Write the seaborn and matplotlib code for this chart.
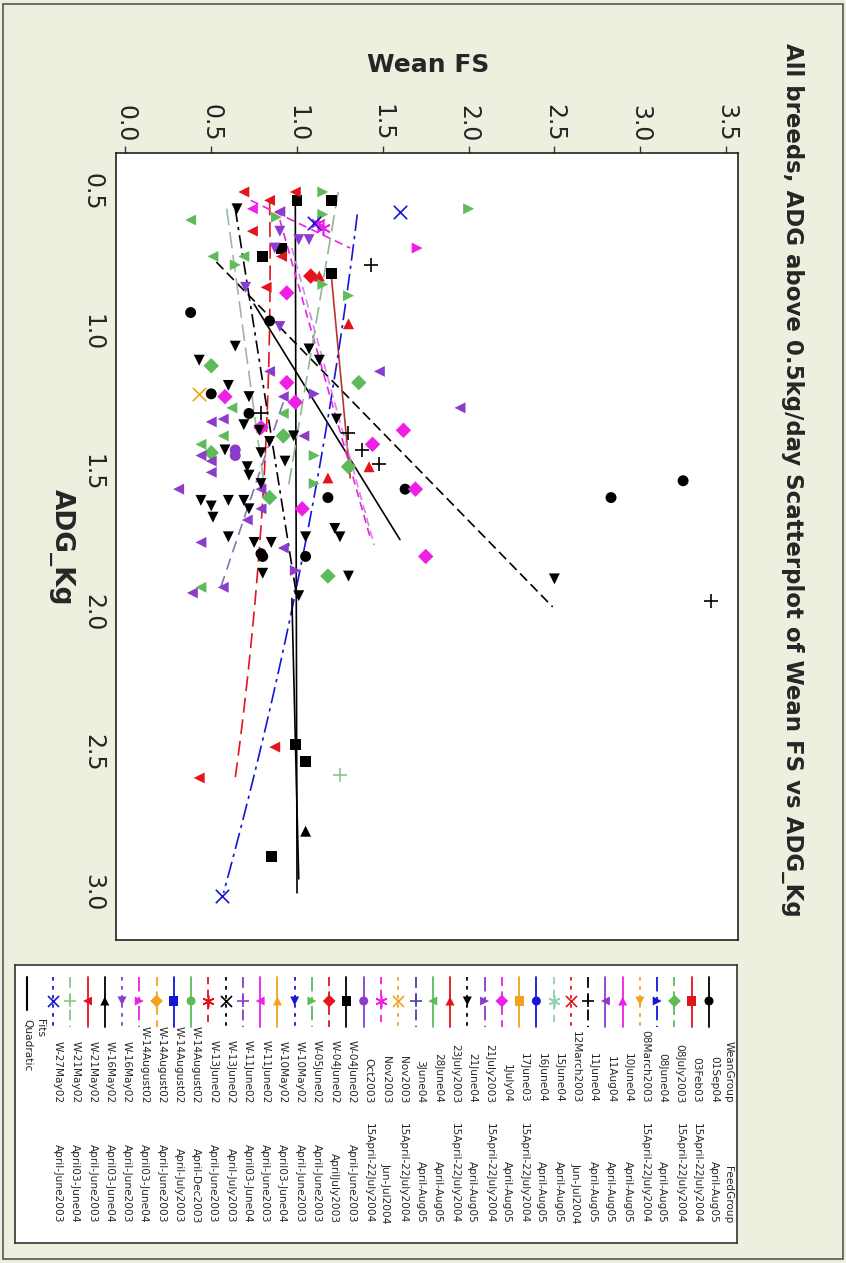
import matplotlib
matplotlib.use("Agg")
import matplotlib.pyplot as plt
import numpy as np
import seaborn as sns

sns.set_style("white")
plt.rcParams["font.family"] = ["DejaVu Sans"]

# legend entries (WeanGroup, FeedGroup), in legend order
wean_groups = [
    "01Sep04", "03Feb03", "08July2003", "08June04", "08March2003", "10June04",
    "11Aug04", "11June04", "12March2003", "15June04", "16June04", "17June03",
    "1July04", "21July2003", "21June04", "23July2003", "28June04", "3June04",
    "Nov2003", "Nov2003", "Oct2003", "W-04June02", "W-04June02", "W-05June02",
    "W-10May02", "W-10May02", "W-11June02", "W-11June02", "W-13June02",
    "W-13June02", "W-14August02", "W-14August02", "W-14August02",
    "W-14August02", "W-16May02", "W-16May02", "W-21May02", "W-21May02",
    "W-27May02",
]
feed_groups = [
    "April-Aug05", "15April-22July2004", "15April-22July2004", "April-Aug05",
    "15April-22July2004", "April-Aug05", "April-Aug05", "April-Aug05",
    "Jun-Jul2004", "April-Aug05", "April-Aug05", "15April-22July2004",
    "April-Aug05", "15April-22July2004", "April-Aug05", "15April-22July2004",
    "April-Aug05", "April-Aug05", "15April-22July2004", "Jun-Jul2004",
    "15April-22July2004", "April-June2003", "AprilJuly2003", "April-June2003",
    "April-June2003", "April03-June04", "April-June2003", "April03-June04",
    "April-July2003", "April-June2003", "April-Dec2003", "April-July2003",
    "April-June2003", "April03-June04", "April-June2003", "April03-June04",
    "April-June2003", "April03-June04", "April-June2003",
]

# scatter points: group index, ADG_Kg, Wean FS
pt_group = (
    [0] * 11 + [2] * 7 + [6] * 19 + [7] * 6 + [37] + [12] * 10 + [13] * 2
    + [14] * 34 + [15] * 4 + [16] * 8 + [18] + [19] * 2 + [20] * 2
    + [21] * 8 + [22] + [23] * 9 + [26] + [33] + [34] * 6 + [35]
    + [36] * 8 + [38] * 3
)
pt_adg = [
    0.93, 0.96, 1.22, 1.29, 1.56, 1.59, 1.79, 1.80, 1.80, 1.53, 1.59,
    1.12, 1.18, 1.37, 1.43, 1.48, 1.59, 1.87,
    0.57, 1.14, 1.14, 1.23, 1.27, 1.31, 1.32, 1.37, 1.44, 1.46, 1.50, 1.56,
    1.56, 1.63, 1.67, 1.75, 1.77, 1.93, 1.91,
    0.76, 1.29, 1.36, 1.42, 1.47, 1.96,
    2.58,
    0.86, 1.18, 1.23, 1.25, 1.34, 1.35, 1.40, 1.56, 1.63, 1.80,
    1.22, 1.85,
    0.56, 1.05, 1.06, 1.10, 1.10, 1.19, 1.23, 1.31, 1.33, 1.35, 1.37, 1.39,
    1.42, 1.43, 1.46, 1.48, 1.51, 1.54, 1.60, 1.62, 1.60, 1.60, 1.63, 1.66,
    1.70, 1.73, 1.73, 1.75, 1.75, 1.73, 1.86, 1.87, 1.94, 1.88,
    0.80, 0.97, 1.48, 1.52,
    0.60, 0.73, 0.73, 1.27, 1.29, 1.37, 1.40, 1.91,
    1.22,
    0.63, 0.61,
    1.42, 1.44,
    0.53, 0.53, 0.70, 0.73, 0.79, 2.47, 2.53, 2.87,
    0.80,
    0.50, 0.56, 0.58, 0.59, 0.76, 0.83, 0.87, 1.44, 1.54,
    0.56,
    0.70,
    0.64, 0.67, 0.67, 0.70, 0.84, 0.98,
    2.78,
    0.50, 0.53, 0.50, 0.64, 0.73, 0.84, 2.48, 2.59,
    0.57, 0.61, 3.01,
]
pt_fs = [
    0.38, 0.84, 0.50, 0.72, 1.63, 1.18, 0.79, 0.80, 1.05, 3.25, 2.83,
    0.50, 1.36, 0.92, 0.50, 1.30, 0.84, 1.18,
    0.90, 0.84, 1.48, 0.92, 1.95, 0.57, 0.50, 1.04, 0.44, 0.50, 0.50, 0.31,
    0.79, 0.79, 0.71, 0.44, 0.92, 0.39, 0.57,
    1.43, 0.79, 1.30, 1.38, 1.48, 3.41,
    1.25,
    0.94, 0.94, 0.58, 0.99, 0.79, 1.62, 1.44, 1.69, 1.03, 1.75,
    1.10, 0.99,
    0.65, 0.64, 1.07, 1.13, 0.43, 0.60, 0.72, 1.23, 0.69, 0.78, 0.98, 0.84,
    0.58, 0.79, 0.93, 0.71, 0.72, 0.79, 0.44, 0.50, 0.60, 0.69, 0.72, 0.51,
    1.22, 1.25, 0.60, 0.75, 0.85, 1.05, 0.80, 1.30, 1.01, 2.50,
    1.13, 1.30, 1.42, 1.18,
    0.38, 0.51, 0.69, 0.62, 0.92, 0.57, 0.44, 0.44,
    0.43,
    1.15, 1.12,
    0.64, 0.64,
    1.00, 1.20, 0.91, 0.80, 1.20, 0.99, 1.05, 0.85,
    1.08,
    1.15, 2.00, 1.15, 0.88, 0.64, 1.15, 1.30, 1.10, 1.10,
    0.74,
    1.70,
    0.90, 1.01, 1.07, 0.87, 0.70, 0.90,
    1.05,
    0.69, 0.84, 0.99, 0.74, 0.91, 0.82, 0.87, 0.43,
    1.60, 1.10, 0.56,
]

# quadratic fit lines per group (ADG_Kg, Wean FS)
fit_group = [0, 7, 21, 15, 38, 12, 13, 36, 14, 19, 23, 16, 35, 6]
fit_adg = [
    [0.90, 1.74], [0.75, 1.98], [0.53, 3.00], [0.80, 1.52],
    [0.58, 1.18, 1.80, 2.35, 3.00], [0.60, 1.74], [0.70, 1.76],
    [0.53, 1.60, 2.59], [0.56, 1.95], [0.53, 0.70], [0.50, 1.55],
    [0.56, 1.60], [1.95, 2.95], [1.25, 1.92],
]
fit_fs = [
    [0.75, 1.60], [0.53, 2.49], [0.99, 1.00], [1.20, 1.31],
    [1.36, 1.20, 1.02, 0.87, 0.56], [0.90, 1.43], [0.97, 1.45],
    [0.84, 0.80, 0.64], [0.64, 1.00], [0.73, 1.31], [1.24, 0.95],
    [0.59, 0.82], [0.97, 1.01], [0.92, 0.55],
]

# styles
color_cycle = ["#000000", "#E3141B", "#5DBB5A", "#1515D8", "#F0A41C",
               "#EE20E6", "#8C3CCB"]
marker_cycle = ["o", "s", "D", ">", "v", "^", "<", "+", "x", (6, 2, 0)]
line_cycle = ["-", "-", (0, (5, 3)), (0, (8, 3, 2, 3)), (0, (2, 3)),
              "-", "-", (0, (6, 3)), (0, (2, 3)), (0, (4, 3))]
n_groups = len(wean_groups)
colors = [color_cycle[i % 7] for i in range(n_groups)]
markers = [marker_cycle[i % 10] for i in range(n_groups)]
lines = [line_cycle[i % 10] for i in range(n_groups)]
colors[17] = "#4B3FA8"
colors[9] = "#8FD3B0"
colors[37] = "#86C98A"
fit_ls = ["-", (0, (6, 3)), "-", "-", (0, (10, 3, 2, 3)), (0, (5, 3)),
          (0, (5, 3)), (0, (9, 4)), (0, (8, 3, 2, 3)), (0, (5, 3)),
          (0, (10, 4)), (0, (10, 4)), "-", (0, (7, 4))]
fit_color = {15: "#B8342A", 13: "#C98BE6", 16: "#9DB8A0", 23: "#8FB890",
             6: "#8E6FB0"}

bg = "#EEEFDF"
fig = plt.figure(figsize=(8.46, 12.63), dpi=100, facecolor=bg)
W, H = 846, 1263


def fig_box(x0, y0, x1, y1):
    return [x0 / W, 1 - y1 / H, (x1 - x0) / W, (y1 - y0) / H]


ax = fig.add_axes(fig_box(116, 153, 738, 940))
ax.set_facecolor("white")

pt_group = np.array(pt_group)
pt_adg = np.array(pt_adg)
pt_fs = np.array(pt_fs)


def draw_marker(axis, x, y, gi, size):
    m = markers[gi]
    line_art = m in ("+", "x") or isinstance(m, tuple)
    sns.scatterplot(
        x=x, y=y, ax=axis, marker=m, s=size * (1.5 if line_art else 1),
        color=colors[gi], edgecolor=colors[gi] if line_art else "none",
        linewidth=1.2 if line_art else 0, legend=False, zorder=3,
    )


for gi in range(n_groups):
    sel = pt_group == gi
    if sel.any():
        draw_marker(ax, pt_fs[sel], pt_adg[sel], gi, 62)

for k, (gi, xs, ys) in enumerate(zip(fit_group, fit_adg, fit_fs)):
    xs = np.array(xs)
    ys = np.array(ys)
    deg = min(2, len(xs) - 1)
    coef = np.polyfit(xs, ys, deg)
    xx = np.linspace(xs.min(), xs.max(), 50)
    ax.plot(np.polyval(coef, xx), xx, color=fit_color.get(gi, colors[gi]),
            linestyle=fit_ls[k], linewidth=1.2, zorder=2)

ax.set_xlim(-0.055, 3.57)
ax.set_ylim(3.168, 0.361)
ax.set_xticks(np.arange(0, 3.51, 0.5))
ax.set_yticks(np.arange(0.5, 3.01, 0.5))
ax.set_xticklabels([f"{v:.1f}" for v in np.arange(0, 3.51, 0.5)])
ax.set_yticklabels([f"{v:.1f}" for v in np.arange(0.5, 3.01, 0.5)])
ax.xaxis.tick_top()
ax.tick_params(axis="both", direction="out", length=5, width=1,
               labelsize=17, color="#333333", pad=3)
for lab in ax.get_xticklabels():
    lab.set_rotation(270)
    lab.set_va("bottom")
    lab.set_ha("center")
for lab in ax.get_yticklabels():
    lab.set_rotation(270)
    lab.set_va("center")
    lab.set_ha("right")
for sp in ax.spines.values():
    sp.set_color("#222222")
    sp.set_linewidth(1.2)

# rotated axis labels and title
fig.text(428 / W, 1 - 65 / H, "Wean FS", ha="center", va="center",
         fontsize=18, fontweight="bold")
fig.text(62 / W, 1 - 547 / H, "ADG_Kg", ha="center", va="center",
         rotation=270, fontsize=19, fontweight="bold")
fig.text(792 / W, 1 - 480 / H,
         "All breeds, ADG above 0.5kg/day Scatterplot of Wean FS vs ADG_Kg",
         ha="center", va="center", rotation=270, fontsize=16.5,
         fontweight="bold")

# legend panel
lax = fig.add_axes(fig_box(15, 965, 737, 1243))
lax.set_xlim(15, 737)
lax.set_ylim(1243, 965)
lax.set_xticks([])
lax.set_yticks([])
lax.set_facecolor("white")
for sp in lax.spines.values():
    sp.set_color("#333333")
    sp.set_linewidth(1.2)

step = (709 - 53) / (n_groups - 1)
for gi in range(n_groups):
    lx = 709 - gi * step
    lax.plot([lx, lx], [977, 1027], color=colors[gi], linestyle=lines[gi],
             linewidth=1.3, zorder=2)
    draw_marker(lax, [lx], [1001], gi, 42)
    lax.text(lx + 5, 1103, wean_groups[gi], rotation=270,
             rotation_mode="anchor", ha="right", va="center", fontsize=7.6)
    lax.text(lx + 5, 1223, feed_groups[gi], rotation=270,
             rotation_mode="anchor", ha="right", va="center", fontsize=7.6)

hx = 709 + step + 2
lax.text(hx, 1103, "WeanGroup", rotation=270, rotation_mode="anchor",
         ha="right", va="center", fontsize=7.6)
lax.text(hx, 1223, "FeedGroup", rotation=270, rotation_mode="anchor",
         ha="right", va="center", fontsize=7.6)
lax.text(40, 1019, "Fits", rotation=270, rotation_mode="anchor",
         ha="left", va="center", fontsize=7.6)
lax.plot([27, 27], [977, 1010], color="black", linewidth=1.5)
lax.text(27, 1019, "Quadratic", rotation=270, rotation_mode="anchor",
         ha="left", va="center", fontsize=7.6)

# outer frame
fig.patches.append(plt.Rectangle((0.004, 0.003), 0.992, 0.994,
                                 transform=fig.transFigure, fill=False,
                                 edgecolor="#555555", linewidth=1.2))

fig.savefig("out.png", dpi=100, facecolor=bg)
